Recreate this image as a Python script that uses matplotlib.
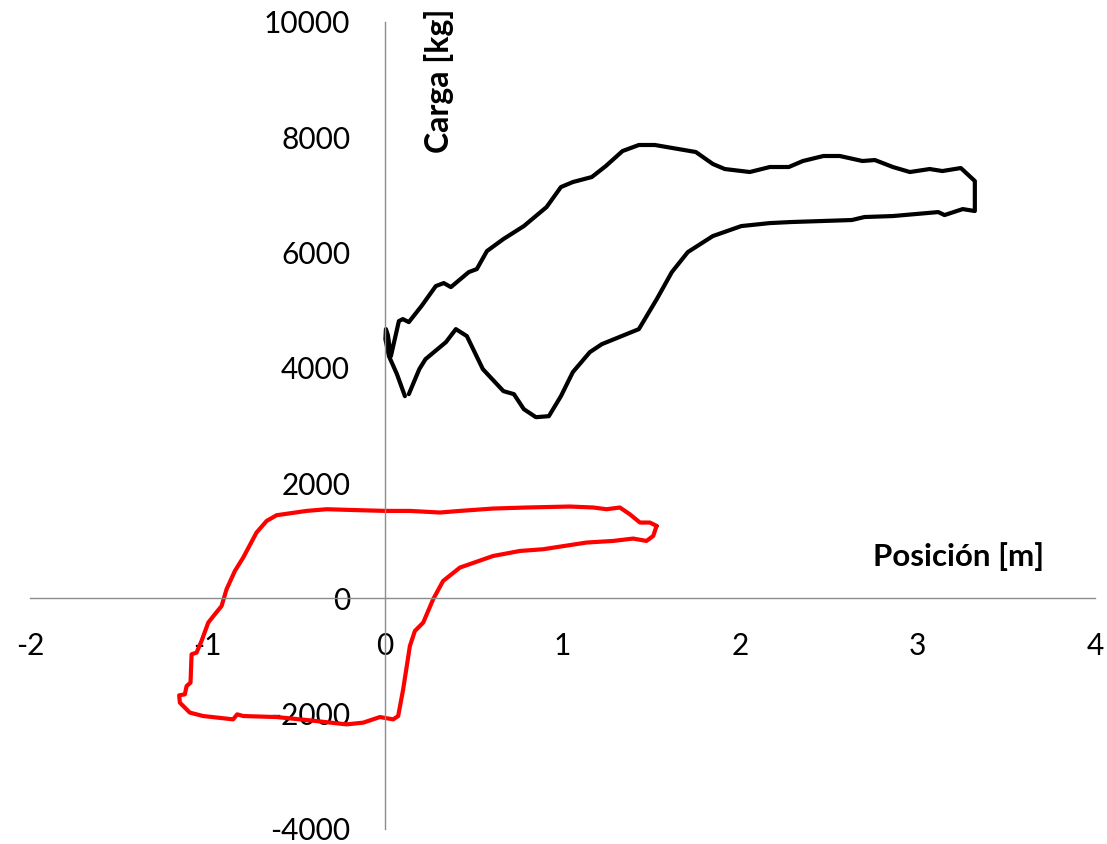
import matplotlib.pyplot as plt

# Curva superior (negra): posición [m] y carga [kg]
pos_negra = [0.113, 0.068, 0.023, 0.003, 0.006, 0.017, 0.034, 0.079, 0.101, 0.135,
             0.206, 0.287, 0.332, 0.372, 0.473, 0.518, 0.575, 0.668, 0.783, 0.911,
             0.992, 1.059, 1.166, 1.245, 1.339, 1.431, 1.521, 1.752, 1.848, 1.915,
             2.056, 2.169, 2.276, 2.355, 2.471, 2.563, 2.691, 2.761, 2.862, 2.958,
             3.070, 3.141, 3.245, 3.324, 3.324, 3.256, 3.153, 3.118, 2.862, 2.702,
             2.631, 2.287, 2.169, 2.008, 1.848, 1.707, 1.617, 1.532, 1.431, 1.223,
             1.155, 1.059, 0.992, 0.924, 0.851, 0.783, 0.727, 0.668, 0.552, 0.462,
             0.400, 0.344, 0.229, 0.194, 0.135]
carga_negra = [3507, 3889, 4201, 4497, 4670, 4566, 4201, 4809, 4844, 4792,
               5069, 5417, 5469, 5399, 5660, 5712, 6024, 6233, 6458, 6788,
               7135, 7222, 7309, 7500, 7760, 7865, 7865, 7743, 7535, 7448,
               7396, 7483, 7483, 7587, 7674, 7674, 7587, 7604, 7483, 7396,
               7448, 7413, 7465, 7240, 6719, 6753, 6649, 6701, 6632, 6615,
               6563, 6528, 6510, 6458, 6285, 6007, 5660, 5191, 4670, 4410,
               4271, 3924, 3507, 3160, 3142, 3281, 3542, 3594, 3976, 4549,
               4670, 4444, 4149, 3976, 3542]

# Curva inferior (roja)
pos_roja = [1.531, 1.493, 1.437, 1.380, 1.324, 1.249, 1.174, 1.042, 0.798, 0.610,
            0.423, 0.310, 0.141, 0.004, -0.141, -0.328, -0.441, -0.610, -0.666, -0.723,
            -0.798, -0.845, -0.892, -0.920, -0.958, -0.995, -1.033, -1.061, -1.089, -1.095,
            -1.117, -1.127, -1.159, -1.155, -1.099, -1.024, -0.855, -0.832, -0.798, -0.610,
            -0.423, -0.216, -0.122, -0.028, 0.047, 0.075, 0.103, 0.141, 0.169, 0.216,
            0.272, 0.328, 0.423, 0.610, 0.761, 0.892, 1.136, 1.286, 1.399, 1.474,
            1.512, 1.531]
carga_roja = [1255, 1314, 1314, 1458, 1575, 1545, 1575, 1592, 1575, 1557,
              1516, 1488, 1516, 1516, 1528, 1545, 1516, 1441, 1342, 1141,
              707, 474, 156, -134, -278, -422, -741, -943, -972, -1464,
              -1523, -1667, -1684, -1811, -1984, -2043, -2101, -2014, -2043, -2061,
              -2118, -2188, -2158, -2061, -2101, -2043, -1580, -828, -568, -422,
              -17, 300, 533, 734, 821, 851, 967, 995, 1036, 995,
              1082, 1255]

x_ticks = [-2, -1, 0, 1, 2, 3, 4]
y_ticks = [-4000, -2000, 0, 2000, 4000, 6000, 8000, 10000]

plt.rcParams['font.family'] = ['Lato', 'DejaVu Sans']

fig = plt.figure(figsize=(11.07, 8.44), dpi=100)
ax = fig.add_axes([0.027, 0.018, 0.962, 0.956])

ax.plot(pos_negra, carga_negra, color='black', lw=3.0,
        solid_joinstyle='round', solid_capstyle='round')
ax.plot(pos_roja, carga_roja, color='#ff0000', lw=3.0,
        solid_joinstyle='round', solid_capstyle='round')

ax.set_xlim(-2, 4)
ax.set_ylim(-4000, 10000)
ax.set_xticks(x_ticks)
ax.set_yticks(y_ticks)
ax.set_xticklabels([str(t) for t in x_ticks])
ax.set_yticklabels([str(t) for t in y_ticks])

# ejes cruzando en el origen
ax.spines['left'].set_position(('data', 0))
ax.spines['bottom'].set_position(('data', 0))
ax.spines['top'].set_visible(False)
ax.spines['right'].set_visible(False)
for s in ('left', 'bottom'):
    ax.spines[s].set_color('#8c8c8c')
    ax.spines[s].set_linewidth(1.0)
ax.tick_params(axis='both', length=0, labelsize=21.5, colors='black')
ax.tick_params(axis='x', pad=24)
ax.tick_params(axis='y', pad=25)

ax.text(0.305, 8980, 'Carga [kg]', rotation=90, fontsize=23, fontweight='bold',
        ha='center', va='center')
ax.text(3.23, 730, 'Posición [m]', fontsize=22.5, fontweight='bold',
        ha='center', va='center')

fig.savefig('out.png', dpi=100)
